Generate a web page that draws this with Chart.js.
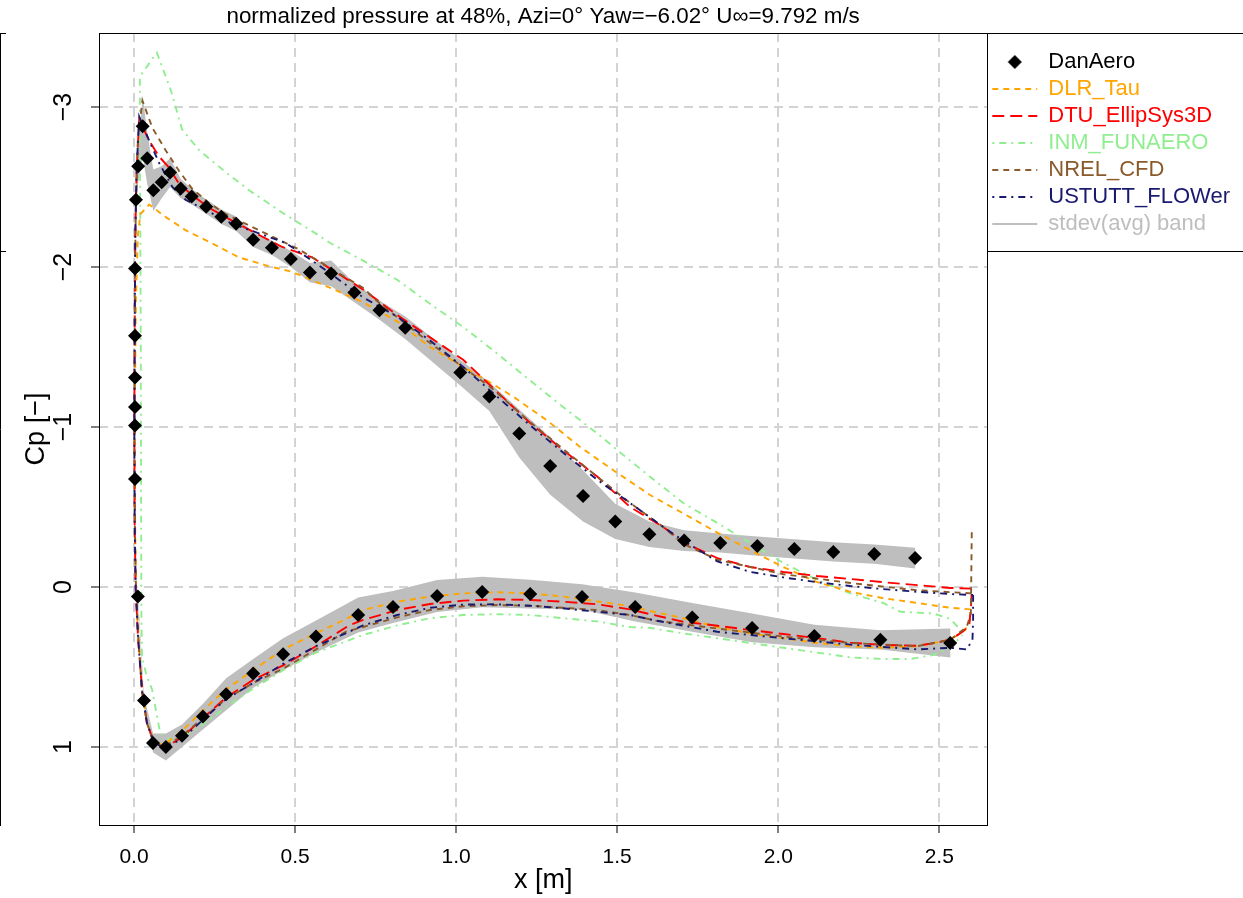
<!DOCTYPE html>
<html><head><meta charset="utf-8">
<script src="https://cdn.jsdelivr.net/npm/chart.js@4.4.1/dist/chart.umd.min.js"></script>
<style>html,body{margin:0;padding:0;background:#fff;}canvas{display:block;}</style>
</head><body>
<canvas id="c" width="1243" height="898"></canvas>
<script>
// ---------- DATA ----------
const xTicks = [0, 0.5, 1.0, 1.5, 2.0, 2.5];
const yTicks = [-3, -2, -1, 0, 1];
const X_MIN = -0.1087, X_MAX = 2.649, Y_MIN = -3.4625, Y_MAX = 1.4875;

// DanAero measurements: suction side (LE -> TE)
const danSucX  = [0.003,0.003,0.003,0.003,0.003,0.003,0.006,0.013,0.027,0.041,0.060,0.086,0.112,0.145,0.179,0.224,0.271,0.317,0.370,0.428,0.487,0.546,0.612,0.684,0.762,0.842,1.013,1.103,1.196,1.292,1.394,1.494,1.600,1.708,1.820,1.935,2.050,2.171,2.298,2.425];
const danSucCp = [-0.675,-1.01,-1.125,-1.31,-1.57,-1.99,-2.42,-2.63,-2.88,-2.68,-2.48,-2.53,-2.59,-2.49,-2.44,-2.377,-2.314,-2.27,-2.17,-2.12,-2.05,-1.965,-1.96,-1.84,-1.73,-1.62,-1.34,-1.19,-0.96,-0.756,-0.569,-0.41,-0.33,-0.29,-0.275,-0.256,-0.238,-0.219,-0.206,-0.181];
const danSucSd = [0.03,0.03,0.03,0.03,0.03,0.03,0.05,0.1,0.19,0.16,0.13,0.1,0.09,0.06,0.05,0.045,0.045,0.045,0.045,0.045,0.05,0.06,0.08,0.06,0.06,0.07,0.08,0.09,0.15,0.18,0.16,0.11,0.08,0.065,0.06,0.06,0.06,0.06,0.06,0.065];
// DanAero measurements: pressure side (LE -> TE)
const danPreX  = [0.012,0.031,0.059,0.099,0.149,0.214,0.286,0.370,0.463,0.565,0.696,0.804,0.941,1.081,1.230,1.391,1.556,1.733,1.919,2.112,2.317,2.534];
const danPreCp = [0.06,0.71,0.975,1.0,0.93,0.81,0.67,0.54,0.42,0.31,0.175,0.125,0.056,0.031,0.044,0.0625,0.125,0.19,0.256,0.306,0.33,0.35];
const danPreSd = [0.03,0.03,0.06,0.085,0.07,0.08,0.1,0.09,0.1,0.1,0.11,0.1,0.1,0.095,0.09,0.08,0.09,0.09,0.09,0.07,0.06,0.09];

// Simulations (TE suction -> LE -> TE pressure)
const dlrX  = [2.597,2.534,2.432,2.326,2.224,2.121,2.016,1.913,1.811,1.705,1.602,1.488,1.385,1.283,1.177,1.096,1.022,0.919,0.817,0.711,0.609,0.490,0.410,0.326,0.240,0.160,0.100,0.047,0.020,0.012,0.006,0.003,0.003,0.006,0.013,0.025,0.040,0.060,0.090,0.149,0.214,0.286,0.370,0.463,0.565,0.668,0.711,0.817,0.919,1.022,1.127,1.230,1.332,1.438,1.540,1.602,1.705,1.811,1.913,2.016,2.121,2.224,2.326,2.432,2.534,2.580,2.597];
const dlrCp = [0.14,0.13,0.10,0.07,0.03,-0.03,-0.125,-0.23,-0.34,-0.46,-0.575,-0.73,-0.875,-1.04,-1.19,-1.29,-1.375,-1.50,-1.66,-1.78,-1.87,-1.97,-2.01,-2.06,-2.15,-2.23,-2.31,-2.39,-2.33,-2.2,-1.8,-1.2,-0.5,0.0,0.3,0.65,0.85,0.96,0.99,0.90,0.77,0.64,0.52,0.39,0.29,0.19,0.144,0.092,0.06,0.04,0.033,0.04,0.06,0.09,0.12,0.15,0.195,0.25,0.29,0.32,0.35,0.37,0.38,0.37,0.33,0.27,0.2];

const dtuX  = [2.600,2.534,2.432,2.326,2.224,2.121,2.016,1.913,1.811,1.705,1.643,1.540,1.438,1.332,1.230,1.127,1.022,0.919,0.817,0.711,0.609,0.553,0.460,0.379,0.304,0.233,0.180,0.140,0.109,0.078,0.047,0.016,0.008,0.004,0.002,0.001,0.002,0.005,0.012,0.025,0.040,0.060,0.085,0.099,0.149,0.214,0.286,0.370,0.463,0.565,0.668,0.711,0.817,0.919,1.022,1.127,1.230,1.332,1.438,1.540,1.602,1.705,1.811,1.913,2.016,2.121,2.224,2.326,2.432,2.485,2.534,2.572,2.593,2.600,2.600];
const dtuCp = [0.01,0.006,-0.012,-0.03,-0.05,-0.069,-0.094,-0.125,-0.18,-0.28,-0.375,-0.50,-0.69,-0.856,-1.025,-1.22,-1.42,-1.56,-1.70,-1.86,-1.99,-2.06,-2.125,-2.21,-2.29,-2.37,-2.45,-2.52,-2.62,-2.69,-2.79,-2.92,-2.6,-2.2,-1.6,-1.0,-0.4,0.0,0.3,0.65,0.85,0.96,1.0,1.0,0.94,0.82,0.69,0.58,0.49,0.37,0.24,0.206,0.144,0.106,0.085,0.077,0.081,0.092,0.108,0.14,0.17,0.217,0.242,0.269,0.294,0.32,0.348,0.362,0.367,0.35,0.33,0.28,0.24,0.08,0.01];

const inmX  = [2.572,2.534,2.481,2.379,2.326,2.224,2.121,2.016,1.913,1.811,1.705,1.620,1.540,1.438,1.332,1.230,1.127,1.022,0.919,0.817,0.711,0.609,0.564,0.460,0.357,0.286,0.202,0.149,0.115,0.071,0.018,0.019,0.021,0.022,0.023,0.025,0.040,0.056,0.081,0.115,0.149,0.202,0.286,0.366,0.463,0.565,0.658,0.711,0.817,0.919,1.022,1.127,1.230,1.332,1.438,1.540,1.600,1.705,1.811,1.913,2.016,2.121,2.224,2.326,2.410,2.481,2.534,2.572];
const inmCp = [0.28,0.20,0.165,0.155,0.10,0.04,-0.044,-0.15,-0.275,-0.40,-0.525,-0.66,-0.79,-0.96,-1.125,-1.29,-1.46,-1.625,-1.77,-1.92,-2.04,-2.15,-2.21,-2.34,-2.48,-2.59,-2.73,-2.86,-3.10,-3.34,-3.19,-2.5,-1.5,-0.5,0.2,0.44,0.56,0.64,0.91,0.96,0.94,0.875,0.75,0.64,0.52,0.41,0.34,0.30,0.24,0.195,0.175,0.17,0.175,0.195,0.215,0.25,0.255,0.29,0.32,0.35,0.38,0.41,0.44,0.45,0.45,0.425,0.38,0.30];

const nrelX  = [2.600,2.432,2.224,2.016,1.811,1.705,1.643,1.540,1.407,1.230,1.106,0.919,0.764,0.711,0.595,0.512,0.429,0.357,0.285,0.233,0.180,0.140,0.098,0.057,0.026,0.012,0.006,0.003,0.001,0.003,0.006,0.013,0.025,0.040,0.060,0.090,0.149,0.214,0.286,0.370,0.463,0.565,0.657,0.711,0.817,0.919,1.022,1.127,1.230,1.332,1.438,1.540,1.620,1.811,2.016,2.224,2.432,2.534,2.585,2.598,2.601];
const nrelCp = [0.04,0.02,-0.025,-0.08,-0.17,-0.27,-0.375,-0.525,-0.74,-1.03,-1.25,-1.525,-1.77,-1.87,-2.01,-2.11,-2.19,-2.26,-2.33,-2.40,-2.49,-2.60,-2.73,-2.87,-3.04,-2.8,-2.4,-2.0,-1.0,-0.3,0.0,0.3,0.65,0.85,0.96,1.0,0.93,0.82,0.70,0.60,0.51,0.39,0.28,0.25,0.19,0.144,0.12,0.113,0.117,0.13,0.144,0.175,0.21,0.26,0.31,0.35,0.37,0.33,0.25,0.17,-0.37];

const ustX  = [2.605,2.534,2.432,2.326,2.224,2.121,2.016,1.913,1.811,1.705,1.643,1.540,1.438,1.332,1.230,1.127,1.022,0.919,0.817,0.711,0.609,0.553,0.471,0.388,0.305,0.233,0.160,0.119,0.078,0.047,0.016,0.008,0.004,0.002,0.001,0.002,0.005,0.012,0.025,0.040,0.060,0.085,0.099,0.149,0.214,0.286,0.370,0.463,0.565,0.657,0.711,0.817,0.919,1.022,1.127,1.230,1.332,1.438,1.540,1.620,1.811,2.016,2.224,2.432,2.534,2.585,2.603,2.605,2.605];
const ustCp = [0.05,0.044,0.03,0.013,-0.006,-0.03,-0.06,-0.094,-0.16,-0.29,-0.375,-0.525,-0.67,-0.84,-1.01,-1.19,-1.375,-1.54,-1.69,-1.81,-1.96,-2.04,-2.15,-2.21,-2.27,-2.345,-2.42,-2.50,-2.65,-2.79,-2.94,-2.6,-2.2,-1.6,-1.0,-0.4,0.0,0.3,0.65,0.85,0.96,1.0,1.0,0.95,0.83,0.70,0.60,0.48,0.37,0.29,0.24,0.175,0.13,0.11,0.108,0.117,0.133,0.155,0.175,0.21,0.28,0.32,0.36,0.39,0.38,0.39,0.33,0.2,0.05];

const seriesNames = ['DanAero','DLR_Tau','DTU_EllipSys3D','INM_FUNAERO','NREL_CFD','USTUTT_FLOWer','stdev(avg) band'];

// ---------- BUILD ----------
const pts = (xs, ys) => xs.map((x, i) => ({x: x, y: ys[i]}));
const bandPts = [];
function addBand(xs, cp, sd) {
  for (let i = 0; i < xs.length; i++) bandPts.push({x: xs[i], y: cp[i] - sd[i]});
  for (let i = xs.length - 1; i >= 0; i--) bandPts.push({x: xs[i], y: cp[i] + sd[i]});
}
addBand(danSucX, danSucCp, danSucSd);
bandPts.push({x: 1, y: null});
addBand(danPreX, danPreCp, danPreSd);

const diamond = document.createElement('canvas');
diamond.width = 16; diamond.height = 16;
(function(){ const d = diamond.getContext('2d'); d.fillStyle = '#000'; d.beginPath(); d.moveTo(8,1); d.lineTo(15,8); d.lineTo(8,15); d.lineTo(1,8); d.closePath(); d.fill(); })();

function lineDs(label, xs, ys, color, dash, order) {
  return { label, data: pts(xs, ys), showLine: true, borderColor: color, backgroundColor: color,
    borderWidth: 1.9, borderDash: dash, pointRadius: 0, pointHoverRadius: 0, tension: 0, fill: false,
    order, legendColor: color, legendDash: dash, legendPoint: 'line', legendWidth: 1.9 };
}

const datasets = [
  { label: seriesNames[0], data: pts(danSucX, danSucCp).concat(pts(danPreX, danPreCp)), showLine: false,
    pointStyle: 'rectRot', pointRadius: 7, pointHoverRadius: 7, backgroundColor: '#000', borderColor: '#000', borderWidth: 0,
    order: 0, legendColor: '#000', legendDash: [], legendPoint: diamond, legendWidth: 0 },
  lineDs(seriesNames[1], dlrX, dlrCp, '#FFA500', [6, 5], 5),
  lineDs(seriesNames[2], dtuX, dtuCp, '#FF0000', [12, 6], 4),
  lineDs(seriesNames[3], inmX, inmCp, '#90EE90', [2, 5, 7, 5], 6),
  lineDs(seriesNames[4], nrelX, nrelCp, '#8B5A2B', [6, 5], 3),
  lineDs(seriesNames[5], ustX, ustCp, '#191970', [2, 5, 7, 5], 2),
  { label: seriesNames[6], data: bandPts, showLine: true, spanGaps: false, borderWidth: 0, borderColor: 'rgba(0,0,0,0)',
    backgroundColor: '#BEBEBE', fill: 'shape', pointRadius: 0, pointHoverRadius: 0, tension: 0, order: 10,
    legendColor: '#BEBEBE', legendDash: [], legendPoint: 'line', legendWidth: 2 }
];

const frame = {
  id: 'frame',
  afterDraw(chart) {
    const {ctx, chartArea: a, legend} = chart;
    ctx.save();
    ctx.strokeStyle = '#000'; ctx.lineWidth = 1; ctx.setLineDash([]);
    ctx.strokeRect(Math.round(a.left) + 0.5, Math.round(a.top) + 0.5, Math.round(a.right - a.left), Math.round(a.bottom - a.top));
    ctx.strokeRect(Math.round(legend.left) + 0.5, Math.round(a.top) + 0.5, chart.width, 218);
    // remnant of neighbouring panel at far left
    ctx.beginPath();
    ctx.moveTo(0.5, Math.round(a.top)); ctx.lineTo(0.5, Math.round(a.bottom) + 1);
    ctx.moveTo(0, Math.round(a.top) + 0.5); ctx.lineTo(6, Math.round(a.top) + 0.5);
    ctx.moveTo(0, Math.round(a.top) + 218.5); ctx.lineTo(6, Math.round(a.top) + 218.5);
    ctx.stroke();
    ctx.restore();
  }
};

Chart.defaults.font.family = "'Liberation Sans', Arial, Helvetica, sans-serif";
Chart.defaults.color = '#000';

new Chart(document.getElementById('c'), {
  type: 'scatter',
  data: { datasets },
  plugins: [frame],
  options: {
    responsive: false, animation: false, devicePixelRatio: 1,
    layout: { padding: { left: 0, right: 3, top: 0, bottom: 0 } },
    plugins: {
      tooltip: { enabled: false },
      title: { display: true, fullSize: false, text: 'normalized pressure at 48%, Azi=0\u00B0 Yaw=\u22126.02\u00B0 U\u221E=9.792 m/s',
        color: '#000', font: { size: 22.4, weight: 'normal', lineHeight: 1.2 }, padding: { top: 3, bottom: 3.1 } },
      legend: {
        display: true, position: 'right', align: 'start', fullSize: false,
        title: { display: true, text: '', font: { size: 1, lineHeight: 1 }, padding: 6 },
        labels: {
          usePointStyle: true, pointStyleWidth: 45, padding: 5,
          font: { size: 22, lineHeight: 1 },
          generateLabels: (chart) => chart.data.datasets.map((ds, i) => ({
            text: ds.label, fontColor: ds.legendColor, fillStyle: ds.legendColor, strokeStyle: ds.legendColor,
            lineWidth: ds.legendWidth, lineDash: ds.legendDash, pointStyle: ds.legendPoint, hidden: false, datasetIndex: i
          }))
        }
      }
    },
    scales: {
      x: {
        type: 'linear', position: 'bottom', min: X_MIN, max: X_MAX,
        afterBuildTicks: (s) => { s.ticks = xTicks.map(v => ({ value: v })); },
        afterFit: (s) => { s.height = 73; },
        ticks: { callback: (v) => Number(v).toFixed(1), color: '#000', font: { size: 21 }, padding: 12, maxRotation: 0, minRotation: 0, autoSkip: false, includeBounds: false },
        grid: { color: '#D3D3D3', lineWidth: 2, tickLength: 8, tickColor: '#000', tickWidth: 1, drawTicks: true },
        border: { display: false, dash: [9, 6] },
        title: { display: true, text: 'x [m]', color: '#000', font: { size: 27 }, padding: { top: 0, bottom: 1 } }
      },
      y: {
        type: 'linear', position: 'left', reverse: true, min: Y_MIN, max: Y_MAX,
        afterBuildTicks: (s) => { s.ticks = yTicks.map(v => ({ value: v })); },
        afterFit: (s) => { s.width = 99; },
        ticks: { callback: (v) => (v < 0 ? '\u2212' + Math.abs(v) : String(v)), color: '#000', font: { size: 25 }, padding: 13,
          minRotation: 90, maxRotation: 90, crossAlign: 'center', autoSkip: false, includeBounds: false },
        grid: { color: '#D3D3D3', lineWidth: 2, tickLength: 8, tickColor: '#000', tickWidth: 1, drawTicks: true },
        border: { display: false, dash: [9, 6] },
        title: { display: true, text: 'Cp [\u2212]', color: '#000', font: { size: 27 }, padding: { top: 20, bottom: 0 } }
      }
    }
  }
});
</script>
</body></html>
